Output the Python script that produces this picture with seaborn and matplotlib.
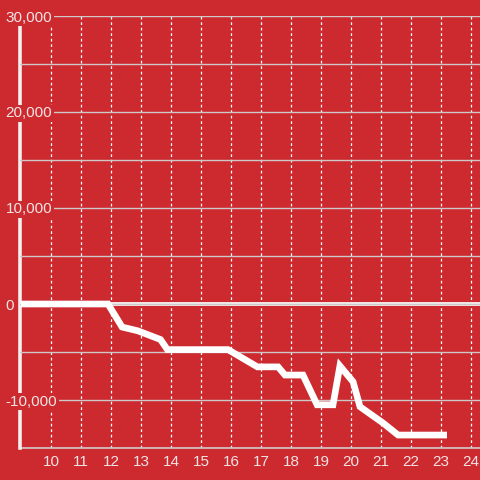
import matplotlib
matplotlib.use("Agg")
import matplotlib.pyplot as plt
from matplotlib.ticker import MultipleLocator, FuncFormatter
import seaborn as sns
import pandas as pd

# data
x_vals = [9, 11.9, 12.37, 12.9, 13.65, 13.88, 15.9, 16.88, 17.57, 17.8, 18.4,
          18.87, 19.4, 19.63, 20.07, 20.3, 21.07, 21.57, 23.2]
y_vals = [0, 0, -2400, -2800, -3700, -4750, -4750, -6550, -6550, -7400, -7400,
          -10500, -10500, -6450, -8100, -10700, -12400, -13650, -13650]
x_ticks = list(range(10, 25))
y_ticks = [-10000, 0, 10000, 20000, 30000]

BG = "#cc2a2f"
TXT = "#f2e4e4"
GRID = "#d0c8c8"

sns.set_style("white")
plt.rcParams["font.family"] = ["Liberation Sans", "DejaVu Sans"]

fig = plt.figure(figsize=(4.8, 4.8), dpi=100, facecolor=BG)
ax = fig.add_axes([20/480, 32/480, 460/480, 432/480])
ax.set_facecolor(BG)

df = pd.DataFrame({"x": x_vals, "y": y_vals})
sns.lineplot(data=df, x="x", y="y", ax=ax, color="white", linewidth=4.8,
             zorder=4, estimator=None, sort=False)
for l in ax.get_lines():
    l.set_solid_joinstyle("miter")
    l.set_solid_capstyle("butt")

ax.set_xlim(8.967, 24.3)
ax.set_ylim(-15000, 30000)

ax.set_xticks(x_ticks)
ax.set_yticks(y_ticks)
ax.yaxis.set_minor_locator(MultipleLocator(5000))
ax.yaxis.set_major_formatter(FuncFormatter(lambda v, p: f"{int(v):,}"))

ax.set_xlabel("")
ax.set_ylabel("")

# grids
ax.grid(False)
ax.yaxis.grid(True, which="both", color=GRID, linewidth=1.0, linestyle="-")
ax.xaxis.grid(True, which="major", color="white", linewidth=0.9,
              linestyle=(0, (2.2, 2.2)))
ax.set_axisbelow(True)

# zero line and axis line
ax.axhline(0, color="#f4eeee", linewidth=2.8, zorder=2.6)
for s in ["top", "right"]:
    ax.spines[s].set_visible(False)
ax.spines["bottom"].set_color(GRID)
ax.spines["bottom"].set_linewidth(1.2)
ax.spines["left"].set_color("#f4eeee")
ax.spines["left"].set_linewidth(2.6)
ax.spines["left"].set_zorder(2.7)

ax.tick_params(axis="x", length=0, pad=5, labelsize=11, labelcolor=TXT)
ax.tick_params(axis="y", which="both", length=0, pad=10.5, labelsize=11,
               labelcolor=TXT)
ax.yaxis.set_zorder(3)
for lab in ax.get_yticklabels():
    lab.set_horizontalalignment("left")
    lab.set_bbox(dict(facecolor=BG, edgecolor="none", pad=1.2))

fig.savefig("out.png", dpi=100, facecolor=BG)
